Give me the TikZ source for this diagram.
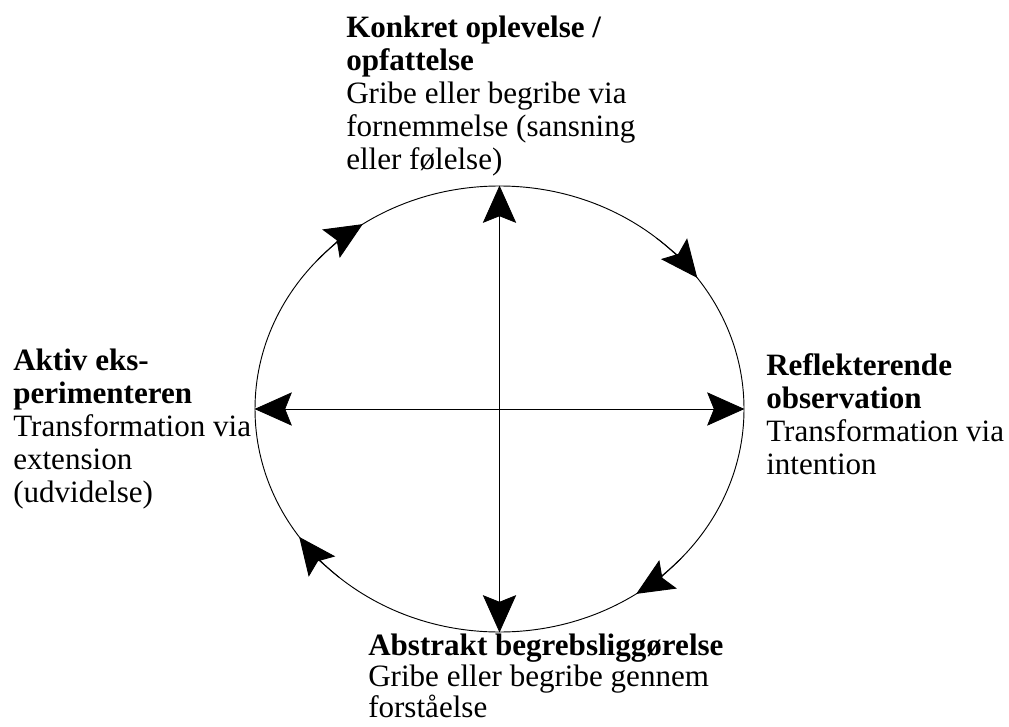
\documentclass[tikz,border=0pt]{standalone}
\usepackage{fontspec}
\setmainfont{Liberation Serif}
\usetikzlibrary{arrows.meta,shapes.geometric,calc}
\begin{document}
\begin{tikzpicture}[
        x=0.75pt, y=0.75pt,
        blok/.style={anchor=north west, inner sep=0pt, align=left, font=\fontsize{23.3}{24.6}\selectfont},
        spids/.tip={Stealth[length=28pt, width=25pt, inset=5pt]},
        akse/.style={line width=0.6pt, spids-spids},
        pil/.style={line width=0.7pt, -spids}
    ]
        % Learning cycle with four poles
        \useasboundingbox (0,0) rectangle (1009,726);
        \node[draw, ellipse, line width=0.7pt, inner sep=0pt, minimum width=366.75pt, minimum height=334.5pt] (cyklus) at (499.5,317) {};
        \node[blok] (konkret) at (346,710) {\textbf{Konkret oplevelse /}\\\textbf{opfattelse}\\Gribe eller begribe via\\fornemmelse (sansning\\eller følelse)};
        \node[blok] (reflekt) at (766,372.5) {\textbf{Reflekterende}\\\textbf{observation}\\Transformation via\\intention};
        \node[blok, font=\fontsize{23.3}{23.3}\selectfont] (abstrakt) at (368,92) {\textbf{Abstrakt begrebsliggørelse}\\Gribe eller begribe gennem\\forståelse};
        \node[blok] (aktiv) at (13,377) {\textbf{Aktiv eks-}\\\textbf{perimenteren}\\Transformation via\\extension\\(udvidelse)};
        \draw[akse] (cyklus.west) -- (cyklus.east);
        \draw[akse] (cyklus.south) -- (cyklus.north);
        \foreach \v in {124,36,-56,-145}
            \draw[pil] ($(cyklus.center)+(\v+14:244.5 and 223)$) arc[start angle=\v+14, end angle=\v, x radius=244.5, y radius=223];
    \end{tikzpicture}
\end{document}
